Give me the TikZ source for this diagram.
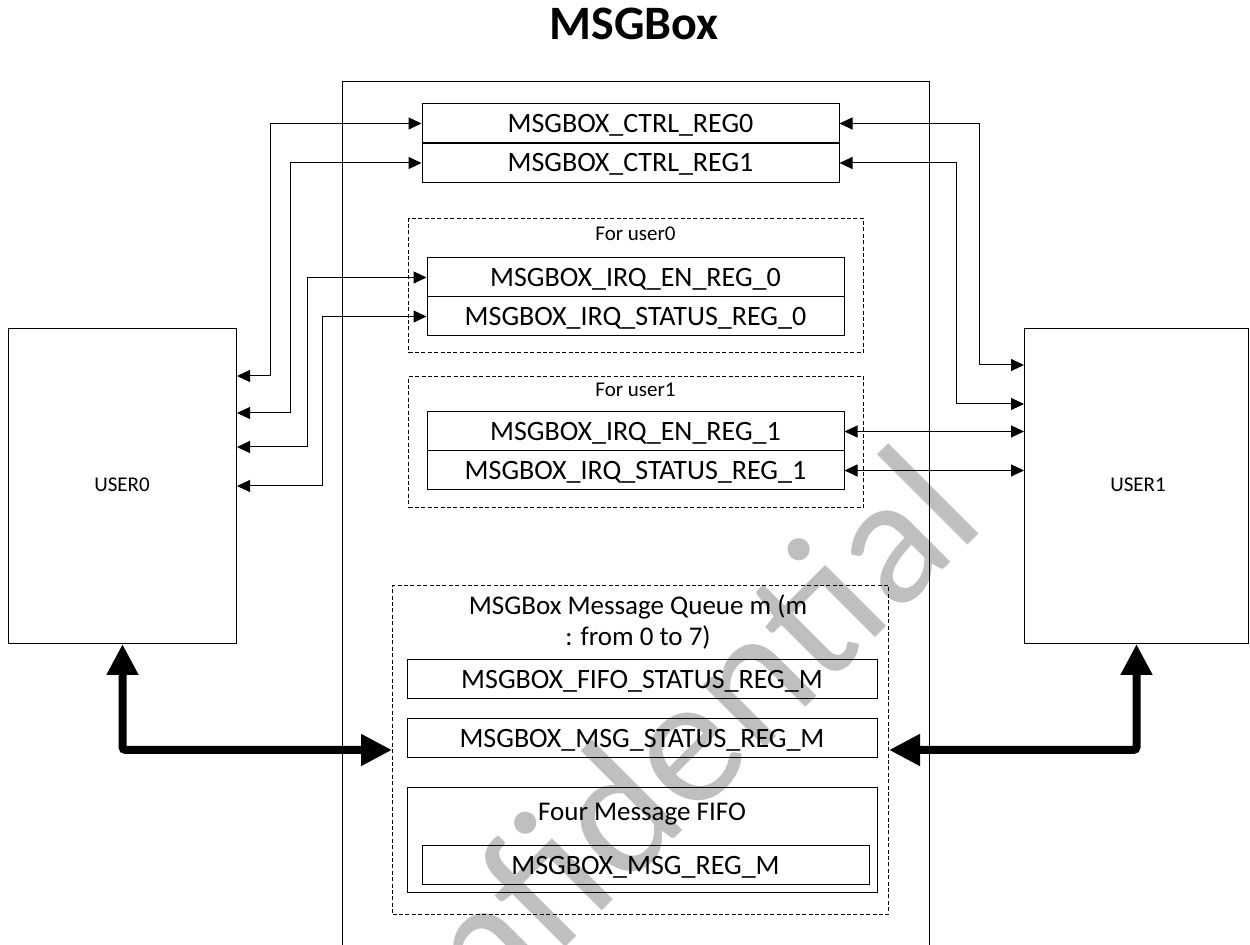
\documentclass[tikz,border=0pt]{standalone}
\usepackage{fontspec}
\setmainfont{Carlito}
\usetikzlibrary{arrows.meta,calc}
\begin{document}
\begin{tikzpicture}[x=0.5pt,y=-0.5pt,
  box/.style={draw, line width=0.5pt, inner sep=0pt, anchor=north west},
  reg/.style={draw, line width=0.5pt, inner sep=0pt, minimum width=208.5pt, minimum height=19.5pt,
     text height=9pt, text depth=0pt, font=\fontsize{14}{16}\selectfont},
  grp/.style={draw, dash pattern=on 2pt off 1.2pt, line width=0.5pt, inner sep=0pt, anchor=north west},
  small/.style={inner sep=0pt, anchor=base, font=\fontsize{10.5}{12}\selectfont},
  qtext/.style={inner sep=0pt, anchor=base, font=\fontsize{13.5}{15}\selectfont},
  biarr/.style={line width=0.5pt, {Triangle[length=6.5pt,width=6pt]}-{Triangle[length=6.5pt,width=6pt]}},
  fatarr/.style={line width=4pt, rounded corners=1.5pt, {Triangle[length=15.5pt,width=15pt]}-{Triangle[length=15.5pt,width=15pt]}}
]
\useasboundingbox (0,0) rectangle (1250,945);
\clip (0,0) rectangle (1250,945);

% watermark
\node[anchor=base west, rotate=45, inner sep=0pt, text=black!25, font=\fontsize{92}{92}\selectfont] (wm) at (349,1164) {Confidential};

% title
\node[inner sep=0pt, anchor=base, font=\fontsize{24}{27}\selectfont\bfseries] (title) at (634,40) {MSGBox};

% outer block
\node[box, minimum width=293.5pt, minimum height=440pt] (outer) at (342,81) {};

% users
\node[box, minimum width=114pt, minimum height=157.5pt] (user0) at (8,328) {};
\node[small] (user0lab) at (122,492) {USER0};
\node[box, minimum width=112pt, minimum height=157.5pt] (user1) at (1024,328) {};
\node[small] (user1lab) at (1138,492) {USER1};

% control registers
\node[reg] (ctrl0) at (630.5,123.5) {MSGBOX\_CTRL\_REG0};
\node[reg] (ctrl1) at (630.5,163) {MSGBOX\_CTRL\_REG1};

% user0 irq group
\node[grp, minimum width=227.5pt, minimum height=67pt] (grp0) at (408,218) {};
\node[small] (grp0lab) at (635.5,241) {For user0};
\node[reg] (en0) at (635.5,277.5) {MSGBOX\_IRQ\_EN\_REG\_0};
\node[reg] (st0) at (635.5,316.5) {MSGBOX\_IRQ\_STATUS\_REG\_0};

% user1 irq group
\node[grp, minimum width=227.5pt, minimum height=65.5pt] (grp1) at (408,376) {};
\node[small] (grp1lab) at (635.5,397) {For user1};
\node[reg] (en1) at (635.5,431.5) {MSGBOX\_IRQ\_EN\_REG\_1};
\node[reg] (st1) at (635.5,470.5) {MSGBOX\_IRQ\_STATUS\_REG\_1};

% message queue
\node[grp, minimum width=248pt, minimum height=164.5pt] (queue) at (392,585) {};
\node[qtext] (qlab1) at (638,615) {MSGBox Message Queue m (m};
\node[qtext] (qlab2) at (638,646) {: from 0 to 7)};
\node[reg, minimum width=235pt] (fifost) at (642,679.5) {MSGBOX\_FIFO\_STATUS\_REG\_M};
\node[reg, minimum width=235pt] (msgst) at (642,738.5) {MSGBOX\_MSG\_STATUS\_REG\_M};
\node[box, minimum width=235pt, minimum height=52.5pt] (fifo) at (407,787) {};
\node[qtext] (fifolab) at (642,821) {Four Message FIFO};
\node[reg, minimum width=223.5pt] (msgreg) at (645.5,865.5) {MSGBOX\_MSG\_REG\_M};

% attachment points on user borders
\coordinate (u0p1) at ($(user0.north east)+(0,48)$);
\coordinate (u0p2) at ($(user0.north east)+(0,85)$);
\coordinate (u0p3) at ($(user0.north east)+(0,119)$);
\coordinate (u0p4) at ($(user0.north east)+(0,158)$);
\coordinate (u1p1) at ($(user1.north west)+(0,37)$);
\coordinate (u1p2) at ($(user1.north west)+(0,76)$);

% thin connectors
\draw[biarr] (ctrl0.west) -| ($(u0p1)+(33,0)$) -- (u0p1);
\draw[biarr] (ctrl1.west) -| ($(u0p2)+(53,0)$) -- (u0p2);
\draw[biarr] (en0.west) -| ($(u0p3)+(70,0)$) -- (u0p3);
\draw[biarr] (st0.west) -| ($(u0p4)+(85,0)$) -- (u0p4);
\draw[biarr] (ctrl0.east) -| ($(u1p1)+(-45,0)$) -- (u1p1);
\draw[biarr] (ctrl1.east) -| ($(u1p2)+(-68,0)$) -- (u1p2);
\draw[biarr] (en1.east) -- (en1.east -| user1.west);
\draw[biarr] (st1.east) -- (st1.east -| user1.west);

% thick connectors
\draw[fatarr] (user0.south) |- (queue.west);
\draw[fatarr] (user1.south) |- (queue.east);
\end{tikzpicture}
\end{document}
